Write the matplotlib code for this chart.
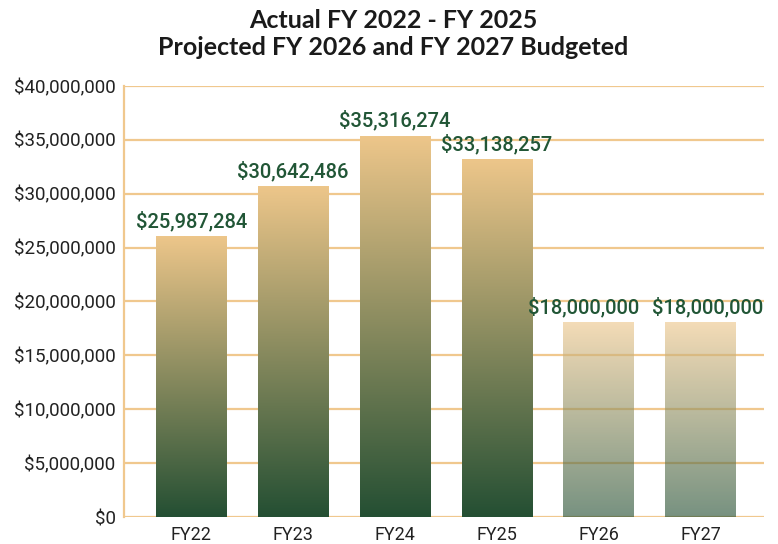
import numpy as np
import matplotlib
matplotlib.use("Agg")
import matplotlib.pyplot as plt
from matplotlib.colors import LinearSegmentedColormap

categories = ["FY22", "FY23", "FY24", "FY25", "FY26", "FY27"]
values = [25987284, 30642486, 35316274, 33138257, 18000000, 18000000]
projected = [False, False, False, False, True, True]
yticks = [0, 5e6, 10e6, 15e6, 20e6, 25e6, 30e6, 35e6, 40e6]
title = "Actual FY 2022 - FY 2025\nProjected FY 2026 and FY 2027 Budgeted"

TAN = "#EDC68A"
GREEN = "#244F33"
GRID = "#F0C88E"
LABEL = "#215636"
cmap = LinearSegmentedColormap.from_list("g", [GREEN, TAN])

fig = plt.figure(figsize=(7.78, 5.44), dpi=100)
ax = fig.add_axes([0.1594, 0.0496, 0.822, 0.7926])

# horizontal nudges (points) for the crowded projected labels
label_nudge = [0, 0, 0, 0, -10.5, 5]

x = np.arange(len(categories))
bars = ax.bar(x, values, width=0.69, color="none", edgecolor="none", zorder=2)
grad = np.linspace(0, 1, 256).reshape(-1, 1)
for b, proj, v, dx in zip(bars, projected, values, label_nudge):
    x0, w, h = b.get_x(), b.get_width(), b.get_height()
    ax.imshow(grad, cmap=cmap, origin="lower", aspect="auto",
              extent=[x0, x0 + w, 0, h], zorder=2,
              alpha=0.62 if proj else 1.0, interpolation="bilinear")
    ax.annotate("${:,.0f}".format(v), (x0 + w / 2, h), xytext=(dx, 4),
                textcoords="offset points", ha="center", va="bottom",
                color=LABEL, fontsize=14.5, fontfamily="Roboto",
                fontweight="medium", zorder=3)

ax.set_xlim(-0.66, 5.62)
ax.set_ylim(0, 40e6)
ax.set_yticks(yticks)
ax.set_yticklabels(["${:,.0f}".format(t) for t in yticks])
ax.set_xticks(x)
ax.set_xticklabels(categories)
ax.tick_params(axis="both", length=0, labelsize=13.5, labelcolor="#222222")
ax.tick_params(axis="y", pad=6)
ax.tick_params(axis="x", pad=6.5, labelsize=13)
for lab in ax.get_xticklabels() + ax.get_yticklabels():
    lab.set_fontfamily("Roboto")

ax.grid(axis="y", color=GRID, linewidth=1.6, zorder=1)
ax.set_axisbelow(True)
for s in ["top", "right", "bottom"]:
    ax.spines[s].set_visible(False)
ax.spines["left"].set_color(GRID)
ax.spines["left"].set_linewidth(1.6)

fig.text(0.505, 0.983, title, ha="center", va="top", fontsize=18,
         fontfamily="Lato", fontweight="bold", color="#1a1a1a", linespacing=1.2)

fig.savefig("out.png", dpi=100)
